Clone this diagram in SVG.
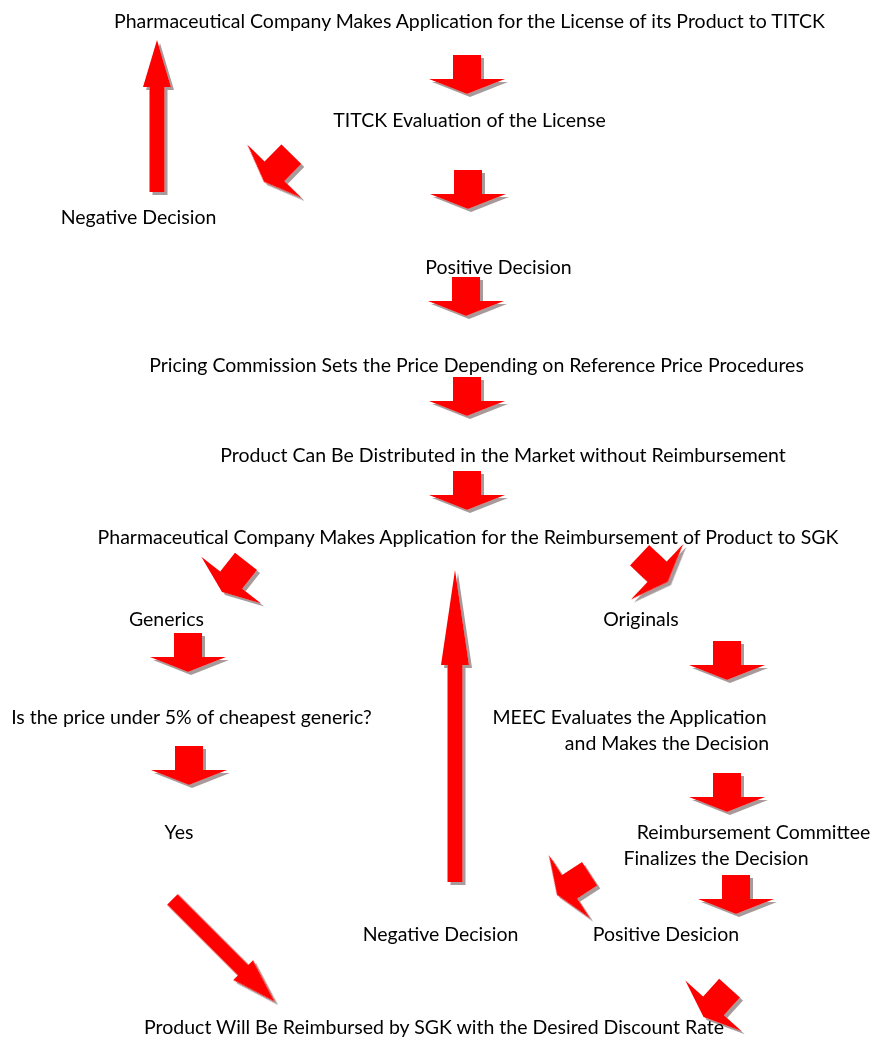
<svg xmlns="http://www.w3.org/2000/svg" xmlns:xlink="http://www.w3.org/1999/xlink" width="873" height="1039" viewBox="0 0 873 1039">
<style>
text{font-family:Lato,"Open Sans","Liberation Sans",sans-serif;font-size:19.5px;fill:#000;text-anchor:middle}
.ar{fill:#ff0000}
</style>
<defs>
<filter id="sh" x="-20%" y="-20%" width="150%" height="150%">
<feDropShadow dx="3" dy="3" stdDeviation="0.6" flood-color="#8a7878" flood-opacity="0.75"/>
</filter>
<polygon id="dn" points="0,0 38,-15 14,-15 14,-39 -14,-39 -14,-15 -38,-15"/>
</defs>
<rect width="873" height="1039" fill="#fff"/>
<g id="connectors" class="ar" filter="url(#sh)">
<use xlink:href="#dn" transform="translate(467,94)"/>
<use xlink:href="#dn" transform="translate(468,209)"/>
<use xlink:href="#dn" transform="translate(466,316)"/>
<use xlink:href="#dn" transform="translate(467,416)"/>
<use xlink:href="#dn" transform="translate(467,510)"/>
<use xlink:href="#dn" transform="translate(188,672)"/>
<use xlink:href="#dn" transform="translate(189,785)"/>
<use xlink:href="#dn" transform="translate(727,680)"/>
<use xlink:href="#dn" transform="translate(727,812)"/>
<use xlink:href="#dn" transform="translate(736,914)"/>
<use xlink:href="#dn" transform="translate(264,182) rotate(44.5)"/>
<use xlink:href="#dn" transform="translate(222,592) rotate(38)"/>
<use xlink:href="#dn" transform="translate(668,582) rotate(-46.7)"/>
<use xlink:href="#dn" transform="translate(557,895) rotate(57)"/>
<use xlink:href="#dn" transform="translate(703.5,1017) rotate(42)"/>
<polygon points="157,40 171,87 164.5,87 164.5,192 149.5,192 149.5,87 143,87"/>
<polygon points="455,570 469,665 462.5,665 462.5,882 447.5,882 447.5,665 441,665"/>
<polygon transform="translate(275,1002) rotate(-45)" points="0,0 14,-45 7.5,-45 7.5,-145 -7.5,-145 -7.5,-45 -14,-45"/>
</g>
<g id="n1"><text x="469.5" y="28">Pharmaceutical Company Makes Application for the License of its Product to TITCK</text></g>
<g id="n2"><text x="469.5" y="127">TITCK Evaluation of the License</text></g>
<g id="n3"><text x="138.5" y="224">Negative Decision</text></g>
<g id="n4"><text x="498.5" y="274">Positive Decision</text></g>
<g id="n5"><text x="476.5" y="372">Pricing Commission Sets the Price Depending on Reference Price Procedures</text></g>
<g id="n6"><text x="503" y="462">Product Can Be Distributed in the Market without Reimbursement</text></g>
<g id="n7"><text x="468" y="544">Pharmaceutical Company Makes Application for the Reimbursement of Product to SGK</text></g>
<g id="n8"><text x="166.5" y="626">Generics</text></g>
<g id="n9"><text x="641" y="626">Originals</text></g>
<g id="n10"><text x="191.5" y="724">Is the price under 5% of cheapest generic?</text></g>
<g id="n11"><text x="629.5" y="724">MEEC Evaluates the Application</text><text x="667" y="750">and Makes the Decision</text></g>
<g id="n12"><text x="179" y="839">Yes</text></g>
<g id="n13"><text x="753.5" y="839">Reimbursement Committee</text><text x="716" y="865">Finalizes the Decision</text></g>
<g id="n14"><text x="440.5" y="941">Negative Decision</text></g>
<g id="n15"><text x="666" y="941">Positive Desicion</text></g>
<g id="n16"><text x="434" y="1034">Product Will Be Reimbursed by SGK with the Desired Discount Rate</text></g>
</svg>
